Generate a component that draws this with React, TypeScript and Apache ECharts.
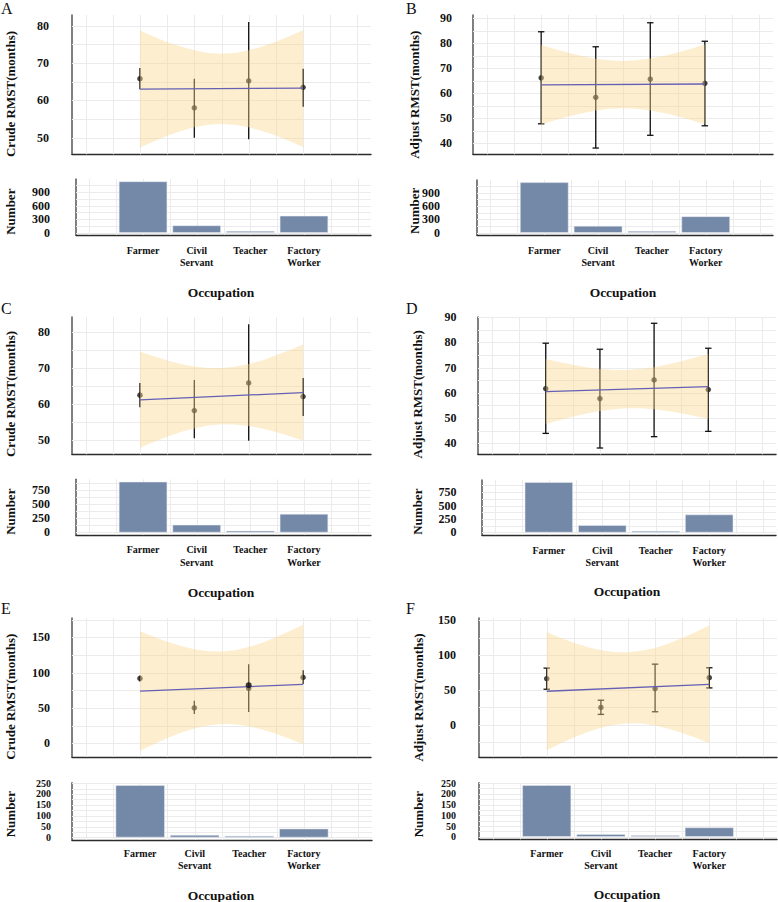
import React, { useEffect, useRef } from 'react';
import * as echarts from 'echarts';

// ---------- shared categories / positions ----------
const categories = ['Farmer', 'Civil\nServant', 'Teacher', 'Factory\nWorker'];
const categoryX = [1, 2, 3, 4];
const bandX = [1, 1.25, 1.5, 1.75, 2, 2.25, 2.5, 2.75, 3, 3.25, 3.5, 3.75, 4];
const trendX = [1, 4];
const xGridValues = [0, 0.5, 1, 1.5, 2, 2.5, 3, 3.5, 4, 4.5, 5];

// ---------- Panel A (crude) ----------
const aRmst = [65.8, 58.0, 65.2, 63.5];
const aLower = [63.0, 50.0, 49.6, 58.3];
const aUpper = [68.7, 65.8, 81.0, 68.5];
const aTrend = [63.0, 63.3];
const aBandUpper = [78.7, 77.1, 75.6, 74.4, 73.4, 72.7, 72.5, 72.7, 73.4, 74.4, 75.7, 77.2, 78.8];
const aBandLower = [47.4, 49.0, 50.5, 51.8, 52.8, 53.5, 53.7, 53.5, 52.8, 51.8, 50.6, 49.1, 47.5];
const aCounts = [1134, 161, 37, 373];

// ---------- Panel B (adjusted) ----------
const bRmst = [66.2, 58.4, 65.7, 64.0];
const bLower = [47.8, 38.1, 43.2, 47.0];
const bUpper = [84.6, 78.6, 88.2, 80.8];
const bTrend = [63.4, 63.7];
const bBandUpper = [79.3, 77.7, 76.2, 74.9, 73.8, 73.2, 72.9, 73.2, 73.9, 74.9, 76.3, 77.8, 79.5];
const bBandLower = [47.5, 49.2, 50.7, 52.0, 53.1, 53.8, 54.0, 53.8, 53.1, 52.1, 50.8, 49.3, 47.6];
const bCounts = [1127, 154, 37, 366];

// ---------- Panel C (crude) ----------
const cRmst = [62.5, 58.2, 65.9, 62.1];
const cLower = [59.1, 50.5, 49.8, 56.7];
const cUpper = [65.9, 66.7, 82.3, 67.3];
const cTrend = [61.2, 63.2];
const cBandUpper = [74.6, 73.4, 72.2, 71.2, 70.5, 70.1, 70.1, 70.4, 71.2, 72.2, 73.6, 75.0, 76.6];
const cBandLower = [47.8, 49.4, 50.9, 52.2, 53.2, 54.0, 54.4, 54.3, 53.9, 53.2, 52.2, 51.1, 49.8];
const cCounts = [896, 135, 29, 328];

// ---------- Panel D (adjusted) ----------
const dRmst = [61.7, 57.7, 65.1, 61.3];
const dLower = [43.9, 38.1, 42.6, 44.7];
const dUpper = [79.7, 77.3, 87.6, 77.7];
const dTrend = [60.5, 62.5];
const dBandUpper = [73.4, 72.2, 71.1, 70.2, 69.5, 69.1, 69.1, 69.5, 70.2, 71.2, 72.5, 73.9, 75.4];
const dBandLower = [47.6, 49.1, 50.5, 51.8, 52.8, 53.5, 53.9, 53.9, 53.5, 52.8, 51.9, 50.8, 49.6];
const dCounts = [932, 135, 25, 332];

// ---------- Panel E (crude) ----------
const eRmst = [91.8, 50.3, 77.7, 93.2];
const eLower = [87.5, 41.4, 44.2, 83.8];
const eUpper = [96.0, 60.2, 112.0, 103.5];
const eTrend = [73.9, 83.3];
const eBandUpper = [158.5, 150.7, 143.6, 137.6, 133.0, 130.3, 129.9, 131.9, 136.2, 142.3, 150.2, 158.5, 167.9];
const eBandLower = [-10.7, -1.3, 7.3, 14.9, 21.0, 25.3, 27.3, 26.9, 24.2, 19.6, 13.6, 6.5, -1.3];
const eCounts = [240, 11, 5, 40];
const eExtraX = [3];
const eExtraY = [82.3];

// ---------- Panel F (adjusted) ----------
const fRmst = [66.2, 24.8, 51.9, 67.6];
const fLower = [51.0, 14.8, 18.6, 52.9];
const fUpper = [81.4, 35.2, 87.1, 81.9];
const fTrend = [48.1, 58.1];
const fBandUpper = [133.0, 125.1, 118.0, 111.9, 107.2, 104.5, 104.1, 106.2, 110.5, 116.9, 124.6, 133.4, 143.0];
const fBandLower = [-36.8, -27.2, -18.4, -10.7, -4.4, 0.0, 2.1, 1.7, -1.0, -5.7, -11.8, -18.9, -26.8];
const fCounts = [240, 12, 6, 43];

// ---------- tick labels / grid values ----------
const ticks50to80 = [50, 60, 70, 80];
const grid50to80 = [50, 55, 60, 65, 70, 75, 80];
const ticks40to90 = [40, 50, 60, 70, 80, 90];
const grid40to90 = [40, 45, 50, 55, 60, 65, 70, 75, 80, 85, 90];
const ticks0to150 = [0, 50, 100, 150];
const gridE = [0, 25, 50, 75, 100, 125, 150, 175];
const gridF = [-25, 0, 25, 50, 75, 100, 125, 150];
const countTicksAB = [0, 300, 600, 900];
const countGridAB = [0, 150, 300, 450, 600, 750, 900, 1050];
const countTicksCD = [0, 250, 500, 750];
const countGridCD = [0, 125, 250, 375, 500, 625, 750, 875];
const countTicksEF = [0, 50, 100, 150, 200, 250];
const countGridEF = [0, 25, 50, 75, 100, 125, 150, 175, 200, 225, 250];

const SERIF = '"Liberation Serif", "Times New Roman", Times, serif';

const panels: any[] = [
  {
    letter: 'A', yTitle: 'Crude RMST(months)', rmst: aRmst, lower: aLower, upper: aUpper, trend: aTrend,
    bandU: aBandUpper, bandL: aBandLower, counts: aCounts, caps: false,
    topBox: [72, 15, 299, 139.3], barBox: [76, 179, 295, 56],
    yRange: [45.55, 82.87], yTicks: ticks50to80, yGrid: grid50to80, yMargin: 23,
    cRange: [-50, 1188], cTicks: countTicksAB, cGrid: countGridAB, cMargin: 26, cFont: 12, catMargin: 9,
    letterXY: [1, 0], yTitleXY: [10, 94], numXY: [10, 211.7], occXY: [221, 292],
  },
  {
    letter: 'B', yTitle: 'Adjust RMST(months)', rmst: bRmst, lower: bLower, upper: bUpper, trend: bTrend,
    bandU: bBandUpper, bandL: bBandLower, counts: bCounts, caps: true,
    topBox: [473, 15, 300, 139.3], barBox: [477, 180, 296, 55],
    yRange: [35.6, 91.3], yTicks: ticks40to90, yGrid: grid40to90, yMargin: 21,
    cRange: [-50, 1180], cTicks: countTicksAB, cGrid: countGridAB, cMargin: 37, cFont: 12, catMargin: 9,
    letterXY: [406, 0], yTitleXY: [414, 94.7], numXY: [414, 210.8], occXY: [623, 292],
  },
  {
    letter: 'C', yTitle: 'Crude RMST(months)', rmst: cRmst, lower: cLower, upper: cUpper, trend: cTrend,
    bandU: cBandUpper, bandL: cBandLower, counts: cCounts, caps: false,
    topBox: [72, 317, 299, 137.3], barBox: [76, 479.3, 295, 55.7],
    yRange: [46.0, 84.3], yTicks: ticks50to80, yGrid: grid50to80, yMargin: 22,
    cRange: [-45, 940], cTicks: countTicksCD, cGrid: countGridCD, cMargin: 26, cFont: 12, catMargin: 8.7,
    letterXY: [1, 300], yTitleXY: [10, 394], numXY: [10, 511.7], occXY: [221, 592],
  },
  {
    letter: 'D', yTitle: 'Adjust RMST(months)', rmst: dRmst, lower: dLower, upper: dUpper, trend: dTrend,
    bandU: dBandUpper, bandL: dBandLower, counts: dCounts, caps: true,
    topBox: [478, 317, 298, 137.3], barBox: [482, 480, 294, 55],
    yRange: [35.6, 90.1], yTicks: ticks40to90, yGrid: grid40to90, yMargin: 21.5,
    cRange: [-47, 975], cTicks: countTicksCD, cGrid: countGridCD, cMargin: 25.5, cFont: 12, catMargin: 9,
    letterXY: [406, 300], yTitleXY: [417.5, 394.3], numXY: [417.5, 511.7], occXY: [627, 591.7],
  },
  {
    letter: 'E', yTitle: 'Crude RMST(months)', rmst: eRmst, lower: eLower, upper: eUpper, trend: eTrend,
    bandU: eBandUpper, bandL: eBandLower, counts: eCounts, caps: false,
    extraX: eExtraX, extraY: eExtraY,
    topBox: [72, 618, 299, 139], barBox: [72, 782.7, 300, 57.3],
    yRange: [-19.4, 177.4], yTicks: ticks0to150, yGrid: gridE, yMargin: 22,
    cRange: [-12, 252], cTicks: countTicksEF, cGrid: countGridEF, cMargin: 21, cFont: 10, catMargin: 7,
    letterXY: [1, 600], yTitleXY: [10, 696.7], numXY: [10, 814.2], occXY: [221, 895],
  },
  {
    letter: 'F', yTitle: 'Adjust RMST(months)', rmst: fRmst, lower: fLower, upper: fUpper, trend: fTrend,
    bandU: fBandUpper, bandL: fBandLower, counts: fCounts, caps: true,
    topBox: [479, 618, 298, 139], barBox: [479, 782.7, 298, 56.6],
    yRange: [-46.5, 153.5], yTicks: ticks0to150, yGrid: gridF, yMargin: 23,
    cRange: [-12, 252], cTicks: countTicksEF, cGrid: countGridEF, cMargin: 23, cFont: 10, catMargin: 7.7,
    letterXY: [406, 600], yTitleXY: [418, 697.5], numXY: [418, 814.2], occXY: [627, 894.3],
  },
];

const GRID_COLOR = '#ebebeb';
const RIBBON = 'rgba(249,214,140,0.42)';
const BAR_COLOR = '#7488a8';
const TREND_COLOR = '#6660b5';

function gridLineSeries(gi: number, xMin: number, yMin: number, xs: number[], ys: number[]) {
  const data = [
    ...xs.map((v) => [v, yMin, 0]),
    ...ys.map((v) => [xMin, v, 1]),
  ];
  return {
    type: 'custom',
    xAxisIndex: gi,
    yAxisIndex: gi,
    silent: true,
    z: 1,
    data,
    renderItem: (params: any, api: any) => {
      const cs = params.coordSys;
      const p = api.coord([api.value(0), api.value(1)]);
      const kind = api.value(2);
      if (kind === 0) {
        const x = Math.round(p[0]) + 0.5;
        return { type: 'line', shape: { x1: x, y1: cs.y, x2: x, y2: cs.y + cs.height }, style: { stroke: GRID_COLOR, lineWidth: 1 } };
      }
      const y = Math.round(p[1]) + 0.5;
      return { type: 'line', shape: { x1: cs.x, y1: y, x2: cs.x + cs.width, y2: y }, style: { stroke: GRID_COLOR, lineWidth: 1 } };
    },
  };
}

function buildOption() {
  const grid: any[] = [];
  const xAxis: any[] = [];
  const yAxis: any[] = [];
  const series: any[] = [];
  const graphic: any[] = [];

  const labelFont = { fontFamily: SERIF, fontWeight: 'bold', color: '#111' };

  panels.forEach((p, pi) => {
    const gt = pi * 2;
    const gb = pi * 2 + 1;
    grid.push({ left: p.topBox[0], top: p.topBox[1], width: p.topBox[2], height: p.topBox[3], containLabel: false, outerBoundsMode: 'none' });
    grid.push({ left: p.barBox[0], top: p.barBox[1], width: p.barBox[2], height: p.barBox[3], containLabel: false, outerBoundsMode: 'none' });

    xAxis.push({
      gridIndex: gt, type: 'value', min: -0.25, max: 5.25,
      axisLine: { show: true, onZero: false, lineStyle: { color: '#2b2b2b', width: 1.4 } },
      axisTick: { show: false }, axisLabel: { show: false }, splitLine: { show: false },
    });
    xAxis.push({
      gridIndex: gb, type: 'value', min: -0.25, max: 5.25,
      axisLine: { show: true, onZero: false, lineStyle: { color: '#2b2b2b', width: 1.4 } },
      axisTick: { show: false }, splitLine: { show: false },
      axisLabel: {
        show: true, customValues: categoryX,
        formatter: (v: number) => categories[Math.round(v) - 1] ?? '',
        fontSize: 10, lineHeight: 12.5, margin: p.catMargin, ...labelFont,
      },
    });
    yAxis.push({
      gridIndex: gt, type: 'value', min: p.yRange[0], max: p.yRange[1],
      axisLine: { show: true, onZero: false, lineStyle: { color: '#555', width: 1.5 } },
      axisTick: { show: false }, splitLine: { show: false },
      axisLabel: { customValues: p.yTicks, fontSize: 12, margin: p.yMargin, showMinLabel: true, showMaxLabel: true, hideOverlap: false, ...labelFont },
    });
    yAxis.push({
      gridIndex: gb, type: 'value', min: p.cRange[0], max: p.cRange[1],
      axisLine: { show: true, onZero: false, lineStyle: { color: '#555', width: 1.5 } },
      axisTick: { show: false }, splitLine: { show: false },
      axisLabel: {
        customValues: p.cTicks, fontSize: p.cFont, lineHeight: p.cFont, margin: p.cMargin,
        showMinLabel: true, showMaxLabel: true, hideOverlap: false, ...labelFont,
      },
    });

    // grid lines
    series.push(gridLineSeries(gt, -0.25, p.yRange[0], xGridValues, p.yGrid));
    series.push(gridLineSeries(gb, -0.25, p.cRange[0], xGridValues, p.cGrid));

    // error bars
    const caps = p.caps;
    series.push({
      type: 'custom', xAxisIndex: gt, yAxisIndex: gt, silent: true, z: 2,
      encode: { x: 0, y: [1, 2] },
      data: categoryX.map((x, i) => [x, p.lower[i], p.upper[i]]),
      renderItem: (params: any, api: any) => {
        const x = api.value(0);
        const top = api.coord([x, api.value(2)]);
        const bot = api.coord([x, api.value(1)]);
        const st = { stroke: '#111', lineWidth: 1.3 };
        const children: any[] = [
          { type: 'line', shape: { x1: top[0], y1: top[1], x2: bot[0], y2: bot[1] }, style: st },
        ];
        if (caps) {
          children.push({ type: 'line', shape: { x1: top[0] - 3.2, y1: top[1], x2: top[0] + 3.2, y2: top[1] }, style: st });
          children.push({ type: 'line', shape: { x1: bot[0] - 3.2, y1: bot[1], x2: bot[0] + 3.2, y2: bot[1] }, style: st });
        }
        return { type: 'group', children };
      },
    });

    // points
    series.push({
      type: 'scatter', xAxisIndex: gt, yAxisIndex: gt, silent: true, z: 3,
      symbolSize: 5.5, itemStyle: { color: '#161616' },
      data: categoryX.map((x, i) => [x, p.rmst[i]]),
    });

    // confidence ribbon (drawn over points, semi-transparent)
    series.push({
      type: 'custom', xAxisIndex: gt, yAxisIndex: gt, silent: true, z: 4,
      encode: { x: 0, y: [1, 2] },
      data: bandX.map((x, i) => [x, p.bandL[i], p.bandU[i]]),
      renderItem: (params: any, api: any) => {
        if (params.dataIndex !== 0) return null;
        const n = params.dataInsideLength;
        const up: number[][] = [];
        const lo: number[][] = [];
        for (let i = 0; i < n; i++) {
          const x = api.value(0, i);
          up.push(api.coord([x, api.value(2, i)]));
          lo.push(api.coord([x, api.value(1, i)]));
        }
        return { type: 'polygon', shape: { points: up.concat(lo.reverse()) }, style: { fill: RIBBON, stroke: null } };
      },
    });

    // trend line
    series.push({
      type: 'line', xAxisIndex: gt, yAxisIndex: gt, silent: true, z: 5,
      showSymbol: false, symbol: 'none',
      lineStyle: { color: TREND_COLOR, width: 1.3 },
      data: trendX.map((x, i) => [x, p.trend[i]]),
    });

    if (p.extraX) {
      series.push({
        type: 'scatter', xAxisIndex: gt, yAxisIndex: gt, silent: true, z: 6,
        symbolSize: 6, itemStyle: { color: '#0d0d0d' },
        data: p.extraX.map((x: number, i: number) => [x, p.extraY[i]]),
      });
    }

    // bars
    series.push({
      type: 'bar', xAxisIndex: gb, yAxisIndex: gb, silent: true, z: 2,
      barWidth: (0.9 * p.barBox[2]) / 5.5,
      barMinHeight: 1.5,
      itemStyle: { color: BAR_COLOR, borderColor: '#e9edf3', borderWidth: 0.5 },
      data: categoryX.map((x, i) => [x, p.counts[i]]),
    });

    // texts
    graphic.push({
      type: 'text', x: p.letterXY[0], y: p.letterXY[1], silent: true,
      style: { text: p.letter, fontFamily: SERIF, fontSize: 16, fill: '#111', align: 'left', verticalAlign: 'top' },
    });
    graphic.push({
      type: 'text', x: p.yTitleXY[0], y: p.yTitleXY[1], rotation: Math.PI / 2, silent: true,
      style: { text: p.yTitle, fontFamily: SERIF, fontWeight: 'bold', fontSize: 13, fill: '#111', align: 'center', verticalAlign: 'middle' },
    });
    graphic.push({
      type: 'text', x: p.numXY[0], y: p.numXY[1], rotation: Math.PI / 2, silent: true,
      style: { text: 'Number', fontFamily: SERIF, fontWeight: 'bold', fontSize: 13, fill: '#111', align: 'center', verticalAlign: 'middle' },
    });
    graphic.push({
      type: 'text', x: p.occXY[0], y: p.occXY[1], silent: true,
      style: { text: 'Occupation', fontFamily: SERIF, fontWeight: 'bold', fontSize: 13.5, fill: '#111', align: 'center', verticalAlign: 'middle' },
    });
  });

  return {
    animation: false,
    backgroundColor: '#ffffff',
    textStyle: { fontFamily: SERIF },
    grid, xAxis, yAxis, series, graphic,
  };
}

export default function App() {
  const ref = useRef<HTMLDivElement>(null);
  useEffect(() => {
    document.body.style.margin = '0';
    if (!ref.current) return;
    const chart = echarts.init(ref.current, undefined, { renderer: 'svg' });
    chart.setOption(buildOption() as any);
    return () => chart.dispose();
  }, []);
  return <div ref={ref} style={{ width: 778, height: 902 }} />;
}
